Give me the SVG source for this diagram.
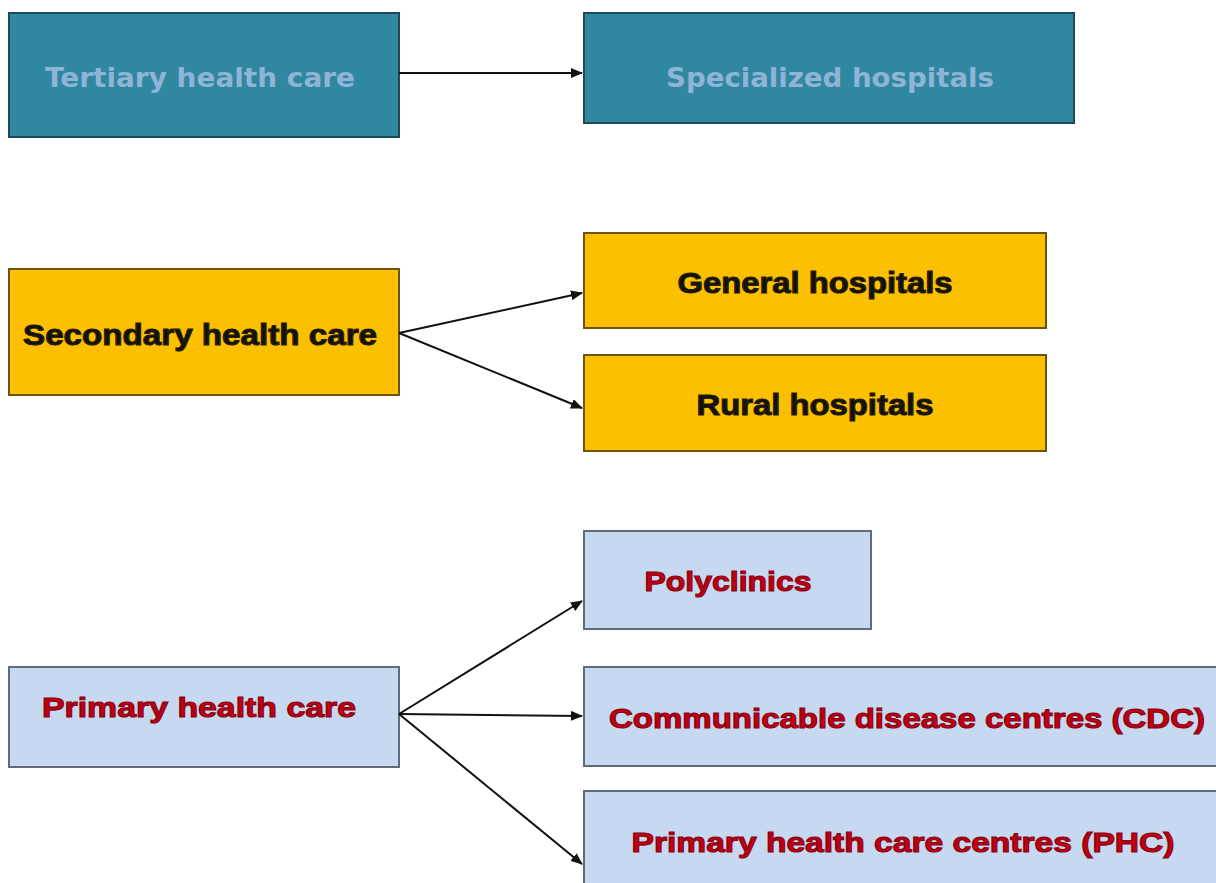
<svg xmlns="http://www.w3.org/2000/svg" width="1216" height="883" viewBox="0 0 1216 883">
<defs>
<marker id="ah" markerWidth="12" markerHeight="10" refX="11" refY="5" orient="auto" markerUnits="userSpaceOnUse">
<path d="M0,0 L12,5 L0,10 Z" fill="#111"/>
</marker>
<style>
.teal{fill:#2f889f;stroke:#1d4a58;stroke-width:2}
.yel{fill:#fdc000;stroke:#6b5410;stroke-width:2}
.lb{fill:#c6d9f0;stroke:#5f6b78;stroke-width:2}
.tt{font-family:"DejaVu Sans",Verdana,sans-serif;font-weight:bold;font-size:26px;fill:#8fb4d8;text-anchor:middle}
.yt{font-family:"Liberation Sans",Arial,sans-serif;font-weight:bold;font-size:29px;fill:#111;stroke:#2a2000;stroke-width:1.1;text-anchor:middle}
.rt{font-family:"Liberation Sans",Arial,sans-serif;font-weight:bold;font-size:28px;fill:#c00010;stroke:#8a0010;stroke-width:1.1;text-anchor:middle}
.con{stroke:#111;stroke-width:2;fill:none;marker-end:url(#ah)}
</style>
</defs>
<rect width="1216" height="883" fill="#fff"/>
<g id="tertiary"><rect class="teal" x="9" y="13" width="390" height="124"/><text class="tt" x="200" y="87" textLength="310" lengthAdjust="spacingAndGlyphs">Tertiary health care</text></g>
<g id="specialized"><rect class="teal" x="584" y="13" width="490" height="110"/><text class="tt" x="830" y="87" textLength="328" lengthAdjust="spacingAndGlyphs">Specialized hospitals</text></g>
<g id="secondary"><rect class="yel" x="9" y="269" width="390" height="126"/><text class="yt" x="200" y="345" textLength="354" lengthAdjust="spacingAndGlyphs">Secondary health care</text></g>
<g id="general"><rect class="yel" x="584" y="233" width="462" height="95"/><text class="yt" x="815" y="293" textLength="275" lengthAdjust="spacingAndGlyphs">General hospitals</text></g>
<g id="rural"><rect class="yel" x="584" y="355" width="462" height="96"/><text class="yt" x="815" y="415" textLength="237" lengthAdjust="spacingAndGlyphs">Rural hospitals</text></g>
<g id="primary"><rect class="lb" x="9" y="667" width="390" height="100"/><text class="rt" x="199" y="717" textLength="314" lengthAdjust="spacingAndGlyphs">Primary health care</text></g>
<g id="polyclinics"><rect class="lb" x="584" y="531" width="287" height="98"/><text class="rt" x="728" y="591" textLength="167" lengthAdjust="spacingAndGlyphs">Polyclinics</text></g>
<g id="cdc"><rect class="lb" x="584" y="667" width="640" height="99"/><text class="rt" x="907" y="728" textLength="596" lengthAdjust="spacingAndGlyphs">Communicable disease centres (CDC)</text></g>
<g id="phc"><rect class="lb" x="584" y="791" width="640" height="100"/><text class="rt" x="903" y="852" textLength="543" lengthAdjust="spacingAndGlyphs">Primary health care centres (PHC)</text></g>
<g id="connectors">
<line class="con" x1="399" y1="73" x2="582" y2="73"/>
<line class="con" x1="399" y1="333" x2="582" y2="293"/>
<line class="con" x1="399" y1="333" x2="582" y2="408"/>
<line class="con" x1="399" y1="714" x2="582" y2="601"/>
<line class="con" x1="399" y1="714" x2="582" y2="716"/>
<line class="con" x1="399" y1="714" x2="582" y2="864"/>
</g>
</svg>
